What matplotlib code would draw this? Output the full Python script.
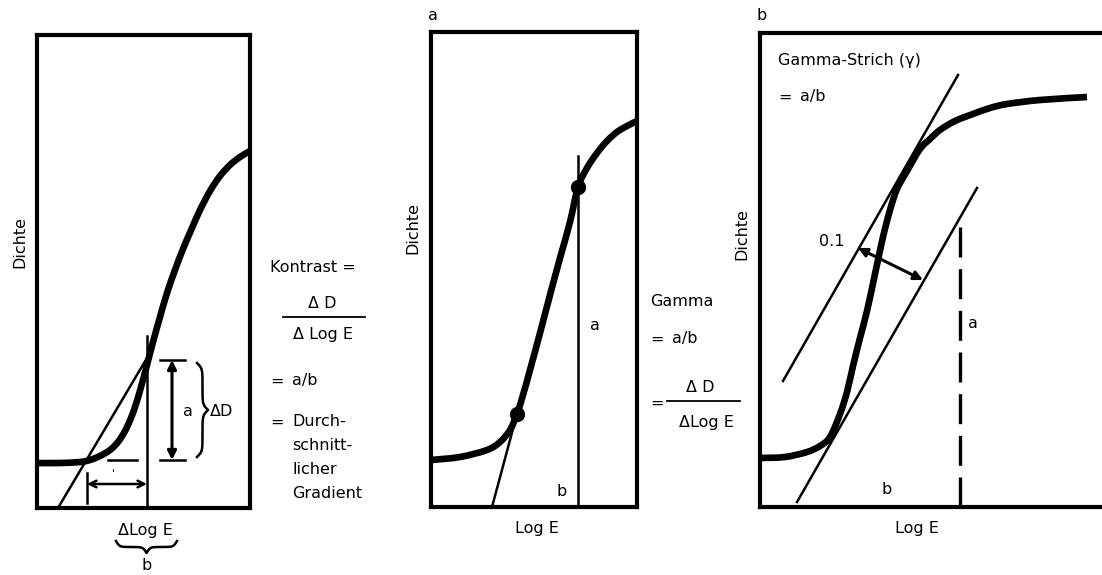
import numpy as np
import matplotlib
matplotlib.use("Agg")
import matplotlib.pyplot as plt
from matplotlib.path import Path
from matplotlib.patches import PathPatch

plt.rcParams["font.family"] = ["DejaVu Sans"]
FS = 11.5
W_PX, H_PX = 1102, 575

# Units: distance inside each box from its lower-left corner (Log E right, Dichte up)

# panel 1: Kontrast
p1_logE = [0, 23, 43, 53, 63, 73, 81, 88, 94, 99, 104, 110, 116, 123, 130,
           138, 146, 155, 163, 173, 183, 193, 203, 213]
p1_dichte = [45, 45, 46, 48, 52, 58, 66, 77, 90, 104, 121, 143, 166, 191, 215,
             238, 259, 280, 298, 317, 332, 343, 351, 357]
p1_tangent_logE = [21, 110]
p1_tangent_dichte = [0, 150]
p1_b_logE = [50, 110]      # Delta Log E
p1_a_dichte = [48, 148]    # Delta D

# panel 2: Gamma
p2_logE = [0, 29, 56, 69, 79, 86, 92, 99, 109, 119, 129, 139, 147, 156, 166,
           176, 186, 196, 206]
p2_dichte = [47, 50, 57, 65, 77, 93, 112, 137, 174, 212, 249, 285, 320, 339,
             354, 366, 375, 381, 386]
p2_points_logE = [86, 147]
p2_points_dichte = [93, 320]
p2_tangent_logE = [61, 86]
p2_tangent_dichte = [0, 93]
p2_a_top = 351

# panel 3: Gamma-Strich
p3_logE = [0, 25, 47, 60, 70, 80, 87, 93, 100, 107, 115, 123, 130, 137, 147,
           160, 170, 180, 195, 213, 230, 247, 280, 327]
p3_dichte = [49, 50, 55, 61, 70, 93, 115, 141, 169, 196, 233, 270, 297, 318,
             336, 358, 368, 377, 386, 393, 399, 403, 407, 410]
p3_upper_logE = [23, 198]
p3_upper_dichte = [126, 432]
p3_lower_logE = [37, 217]
p3_lower_dichte = [5, 319]
p3_gap_logE = [98, 163]
p3_gap_dichte = [259, 227]
p3_a_logE = 200
p3_a_top = 285

fig = plt.figure(figsize=(W_PX / 100, H_PX / 100), dpi=100)


def panel(left, top, right, bottom):
    ax = fig.add_axes([left / W_PX, 1 - bottom / H_PX,
                       (right - left) / W_PX, (bottom - top) / H_PX])
    ax.set_xlim(0, right - left)
    ax.set_ylim(0, bottom - top)
    ax.set_xticks([])
    ax.set_yticks([])
    for s in ax.spines.values():
        s.set_linewidth(3)
        s.set_capstyle("projecting")
    return ax


def smooth_curve(ax, xs, ys, lw=4.8):
    # draw a smooth bezier path through the read points
    p = np.column_stack([xs, ys]).astype(float)
    verts = [p[0]]
    codes = [Path.MOVETO]
    for i in range(len(p) - 1):
        p0 = p[i - 1] if i > 0 else p[i]
        p3 = p[i + 2] if i + 2 < len(p) else p[i + 1]
        verts += [p[i] + (p[i + 1] - p0) / 6, p[i + 1] - (p3 - p[i]) / 6, p[i + 1]]
        codes += [Path.CURVE4] * 3
    ax.add_patch(PathPatch(Path(verts, codes), fill=False, lw=lw,
                           edgecolor="black", capstyle="butt", joinstyle="round"))


def arrow(ax, p0, p1, style, lw=2.0, ms=14):
    ax.annotate("", xy=p1, xytext=p0, annotation_clip=False,
                arrowprops=dict(arrowstyle=style, lw=lw, color="black",
                                shrinkA=0, shrinkB=0, mutation_scale=ms))


thin = dict(color="black", lw=1.8)

# ---- panel 1
ax1 = panel(37, 35, 250, 508)
smooth_curve(ax1, p1_logE, p1_dichte)
ax1.plot(p1_tangent_logE, p1_tangent_dichte, **thin)
ax1.plot([110, 110], [0, 172], **thin)
arrow(ax1, (p1_b_logE[0], 24), (p1_b_logE[1], 24), "<->", lw=1.8, ms=12)
ax1.plot([p1_b_logE[0]] * 2, [5, 35], **thin)
ax1.plot([71, 100], [48, 48], **thin)
arrow(ax1, (135, p1_a_dichte[0]), (135, p1_a_dichte[1]), "<|-|>", lw=2.2, ms=13)
for yv in p1_a_dichte:
    ax1.plot([123, 148], [yv, yv], **thin)

# ---- panel 2
ax2 = panel(431, 32, 637, 507)
smooth_curve(ax2, p2_logE, p2_dichte)
ax2.plot(p2_tangent_logE, p2_tangent_dichte, **thin)
ax2.plot([p2_points_logE[1]] * 2, [0, p2_a_top], **thin)
ax2.plot(p2_points_logE, p2_points_dichte, "o", color="black", ms=10)

# ---- panel 3
ax3 = panel(760, 33, 1110, 507)
ax3.spines["right"].set_visible(False)
smooth_curve(ax3, p3_logE, p3_dichte)
ax3.plot(p3_upper_logE, p3_upper_dichte, **thin)
ax3.plot(p3_lower_logE, p3_lower_dichte, **thin)
ax3.plot([p3_a_logE] * 2, [0, p3_a_top], color="black", lw=2.4,
         dashes=(9, 3.5))
arrow(ax3, (p3_gap_logE[0], p3_gap_dichte[0]),
      (p3_gap_logE[1], p3_gap_dichte[1]), "<|-|>", lw=2.2, ms=13)

# ---- overlay for labels (pixel positions)
ov = fig.add_axes([0, 0, 1, 1])
ov.set_xlim(0, W_PX)
ov.set_ylim(H_PX, 0)
ov.axis("off")
ov.patch.set_alpha(0)


def T(x, y, s, ha="left", va="center", **kw):
    ov.text(x, y, s, ha=ha, va=va, fontsize=kw.pop("fontsize", FS), **kw)


def brace(a0, a1, c, depth, vertical=False, lw=1.8):
    t = np.linspace(0, 1, 201)
    half = t[:101]
    beta = 35
    h = 1 / (1 + np.exp(-beta * (half - half[0]))) + \
        1 / (1 + np.exp(-beta * (half - half[-1])))
    prof = np.concatenate([h, h[-2::-1]]) - 0.5
    along = a0 + (a1 - a0) * t
    across = c + depth * prof
    if vertical:
        ov.plot(across, along, color="black", lw=lw)
    else:
        ov.plot(along, across, color="black", lw=lw)


# panel 1 labels
T(20, 242, "Dichte", ha="center", rotation=90)
T(183, 411, "a")
brace(363, 457, 197, 11, vertical=True)
T(210, 411, "\u0394D")
T(112, 473, "'", fontsize=8)
T(145, 530, "\u0394Log E", ha="center")
brace(116, 177, 541, 12)
T(147, 566, "b", ha="center")

T(270, 268, "Kontrast =")
T(322, 304, "\u0394 D", ha="center")
ov.plot([283, 365], [317, 317], color="black", lw=1.3)
T(323, 334, "\u0394 Log E", ha="center")
T(270, 381, "=")
T(292, 381, "a/b")
T(270, 422, "=")
T(292, 422, "Durch-")
T(292, 446, "schnitt-")
T(292, 469, "licher")
T(292, 493, "Gradient")

# panel 2 labels
T(433, 16, "a", ha="center")
T(413, 228, "Dichte", ha="center", rotation=90)
T(590, 326, "a")
T(562, 491, "b", ha="center")
T(537, 528, "Log E", ha="center")
T(650, 302, "Gamma")
T(650, 339, "=")
T(672, 339, "a/b")
T(650, 403, "=")
T(700, 387, "\u0394 D", ha="center")
ov.plot([667, 740], [401, 401], color="black", lw=1.3)
T(706, 422, "\u0394Log E", ha="center")

# panel 3 labels
T(762, 15, "b", ha="center")
T(742, 234, "Dichte", ha="center", rotation=90)
T(778, 61, "Gamma-Strich (\u03b3)")
T(778, 97, "=")
T(800, 97, "a/b")
T(832, 241, "0.1", ha="center")
T(968, 324, "a")
T(887, 489, "b", ha="center")
T(917, 528, "Log E", ha="center")

fig.savefig("out.png", dpi=100)
